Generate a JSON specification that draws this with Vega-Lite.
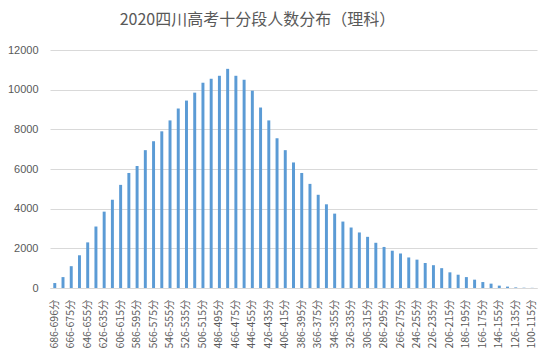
{
  "$schema": "https://vega.github.io/schema/vega-lite/v6.json",
  "autosize": {"type": "none"},
  "width": 487,
  "height": 238,
  "padding": {"left": 50, "top": 50, "right": 14, "bottom": 70},
  "background": "white",
  "title": {
    "text": "2020四川高考十分段人数分布（理科）",
    "font": "Noto Sans CJK SC",
    "fontSize": 16,
    "fontWeight": "normal",
    "color": "#595959",
    "anchor": "middle",
    "dx": -36,
    "offset": 16
  },
  "data": {
    "values": [
      {"band": "686-696分", "count": 250},
      {"band": "676-685分", "count": 550},
      {"band": "666-675分", "count": 1100},
      {"band": "656-665分", "count": 1650},
      {"band": "646-655分", "count": 2300},
      {"band": "636-645分", "count": 3100},
      {"band": "626-635分", "count": 3850},
      {"band": "616-625分", "count": 4450},
      {"band": "606-615分", "count": 5200},
      {"band": "596-605分", "count": 5800},
      {"band": "586-595分", "count": 6150},
      {"band": "576-585分", "count": 6950},
      {"band": "566-575分", "count": 7400},
      {"band": "556-565分", "count": 7900},
      {"band": "546-555分", "count": 8450},
      {"band": "536-545分", "count": 9050},
      {"band": "526-535分", "count": 9450},
      {"band": "516-525分", "count": 9850},
      {"band": "506-515分", "count": 10350},
      {"band": "496-505分", "count": 10550},
      {"band": "486-495分", "count": 10700},
      {"band": "476-485分", "count": 11050},
      {"band": "466-475分", "count": 10700},
      {"band": "456-465分", "count": 10500},
      {"band": "446-455分", "count": 9950},
      {"band": "436-445分", "count": 9100},
      {"band": "426-435分", "count": 8450},
      {"band": "416-425分", "count": 7550},
      {"band": "406-415分", "count": 6950},
      {"band": "396-405分", "count": 6330},
      {"band": "386-395分", "count": 5800},
      {"band": "376-385分", "count": 5250},
      {"band": "366-375分", "count": 4700},
      {"band": "356-365分", "count": 4220},
      {"band": "346-355分", "count": 3750},
      {"band": "336-345分", "count": 3350},
      {"band": "326-335分", "count": 3050},
      {"band": "316-325分", "count": 2800},
      {"band": "306-315分", "count": 2580},
      {"band": "296-305分", "count": 2280},
      {"band": "286-295分", "count": 2070},
      {"band": "276-285分", "count": 1880},
      {"band": "266-275分", "count": 1740},
      {"band": "256-265分", "count": 1540},
      {"band": "246-255分", "count": 1430},
      {"band": "236-245分", "count": 1260},
      {"band": "226-235分", "count": 1150},
      {"band": "216-225分", "count": 1000},
      {"band": "206-215分", "count": 790},
      {"band": "196-205分", "count": 670},
      {"band": "186-195分", "count": 550},
      {"band": "176-185分", "count": 420},
      {"band": "166-175分", "count": 300},
      {"band": "156-165分", "count": 220},
      {"band": "146-155分", "count": 120},
      {"band": "136-145分", "count": 70},
      {"band": "126-135分", "count": 30},
      {"band": "116-125分", "count": 15},
      {"band": "100-115分", "count": 8}
    ]
  },
  "mark": {"type": "bar", "color": "#5B9BD5"},
  "encoding": {
    "x": {
      "field": "band",
      "type": "nominal",
      "sort": null,
      "scale": {"paddingInner": 0.64, "paddingOuter": 0.4},
      "axis": {
        "title": null,
        "values": ["686-696分","666-675分","646-655分","626-635分","606-615分","586-595分","566-575分","546-555分","526-535分","506-515分","486-495分","466-475分","446-455分","426-435分","406-415分","386-395分","366-375分","346-355分","326-335分","306-315分","286-295分","266-275分","246-255分","226-235分","206-215分","186-195分","166-175分","146-155分","126-135分","100-115分"],
        "labelAngle": -90,
        "labelFont": "Noto Sans CJK SC",
        "labelFontSize": 10.5,
        "labelColor": "#595959",
        "labelPadding": 11,
        "ticks": false,
        "domainColor": "#d9d9d9",
        "labelOverlap": false,
        "grid": false
      }
    },
    "y": {
      "field": "count",
      "type": "quantitative",
      "scale": {"domain": [0, 12000]},
      "axis": {
        "title": null,
        "values": [0, 2000, 4000, 6000, 8000, 10000, 12000],
        "format": "d",
        "labelFont": "Liberation Sans",
        "labelFontSize": 11,
        "labelColor": "#595959",
        "labelPadding": 12,
        "ticks": false,
        "domain": false,
        "gridColor": "#d9d9d9"
      }
    }
  },
  "config": {"view": {"stroke": null}}
}
